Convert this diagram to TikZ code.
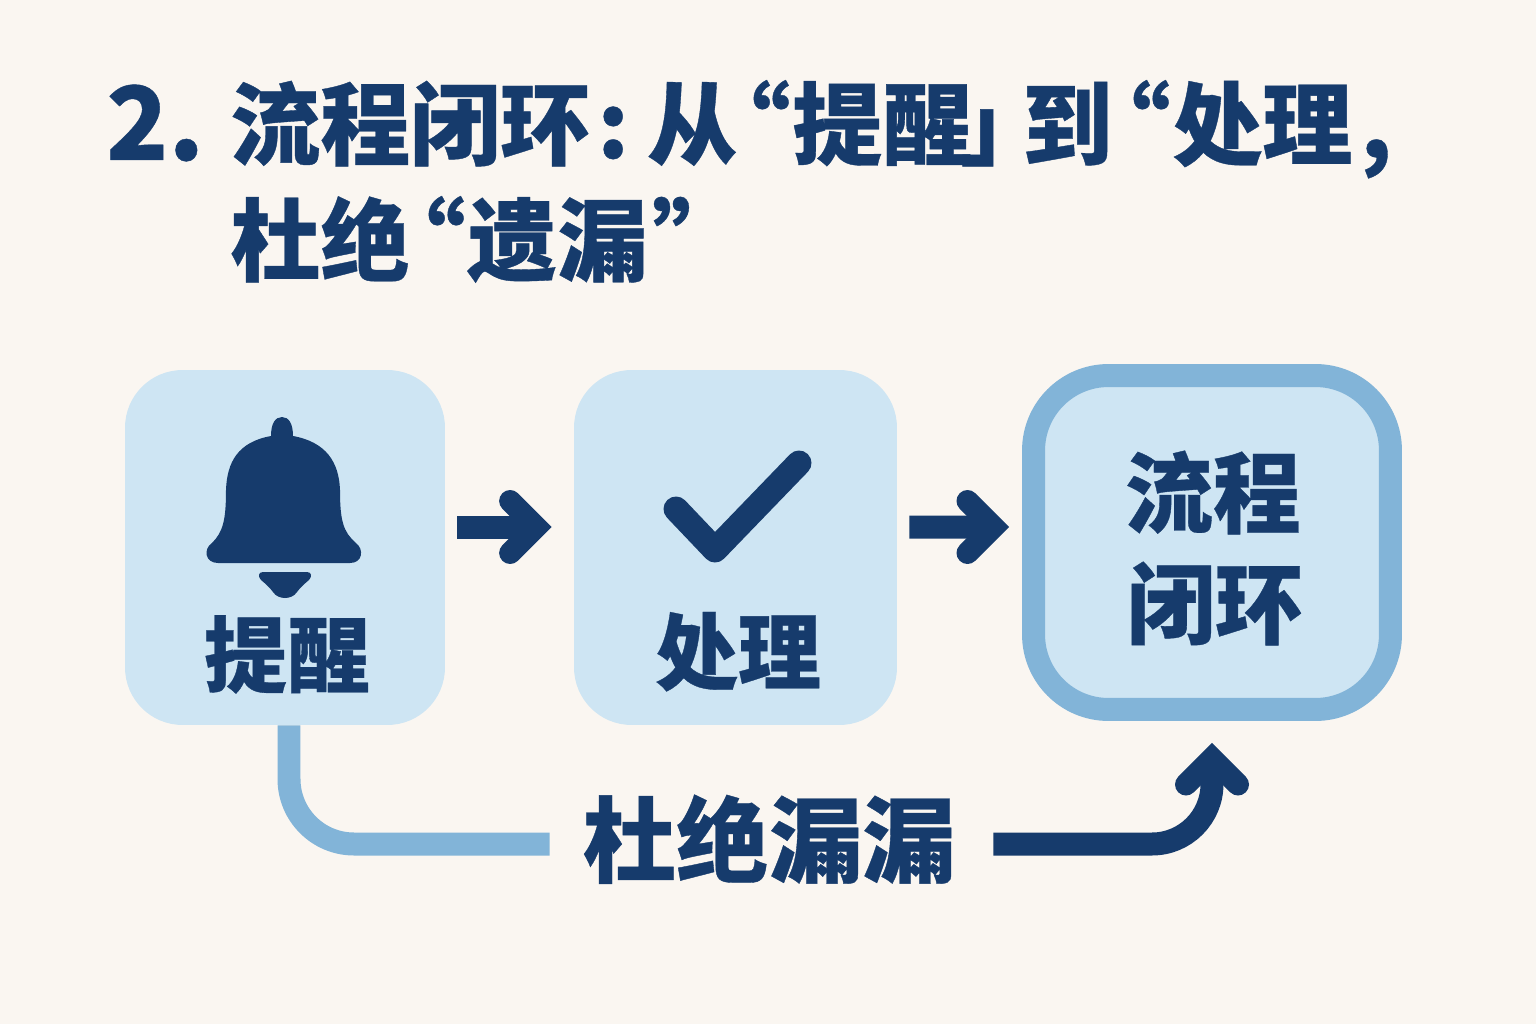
\documentclass[tikz,border=0pt]{standalone}
\usepackage{fontspec}
\usepackage{tikz}
\usetikzlibrary{arrows.meta}
\newfontfamily\cjk[BoldFeatures={FakeBold=.4}]{Noto Sans CJK SC}
\definecolor{bgcream}{HTML}{FAF6F1}
\definecolor{boxblue}{HTML}{CEE5F3}
\definecolor{edgeblue}{HTML}{82B4D8}
\definecolor{navy}{HTML}{163B6C}
\newcommand{\cjksize}[1]{\cjk\bfseries\fontsize{#1}{#1}\selectfont}
\tikzset{
  title/.style={anchor=base west,inner sep=0pt,text=navy,font=\cjksize{51.2pt}},
  label/.style={anchor=base,inner sep=0pt,text=navy,font=\cjksize{#1}},
  softbox/.style={fill=boxblue,rounded corners=1.15cm,inner sep=0pt,minimum height=7.1cm},
  flow/.style={draw=navy,line width=.46cm,-{Straight Barb[length=.52cm,width=1.04cm,line width=.44cm,line cap=round,line join=miter]}},
}
\begin{document}
\begin{tikzpicture}[x=.02cm,y=-.02cm]
\useasboundingbox (0,0) rectangle (1536,1024);
\fill[bgcream] (0,0) rectangle (1536,1024);
\node[title,font=\cjksize{58pt}] (num) at (106,160) {2.};
\node[title] (t1) at (230,158) {流程闭环};
\node[title] (t2) at (597,158) {:};
\node[title] (t3) at (647,158) {从};
\node[title] (t4) at (700,158) {“};
\node[title] (t5) at (792,158) {提醒};
\node[title] (t6) at (960,158) {」};
\node[title] (t7) at (1022,158) {到};
\node[title] (t8) at (1080,158) {“};
\node[title] (t9) at (1172,158) {处理};
\node[title] (t10) at (1360,158) {,};
\node[title] (t11) at (230,274) {杜绝};
\node[title] (t12) at (375,274) {“};
\node[title] (t13) at (467,274) {遗漏};
\node[title] (t14) at (652,274) {”};
%boxes
\node[softbox,minimum width=6.4cm] (remind) at (285,547.5) {};
\node[softbox,minimum width=6.46cm] (handle) at (735.5,547.5) {};
\node[softbox,draw=edgeblue,line width=.46cm,rounded corners=1.5cm,minimum width=7.14cm,minimum height=6.68cm] (closed) at (1212,542.5) {};
\node[label=47.2pt] (remindtext) at (287,686) {提醒};
\node[label=47.2pt] (handletext) at (738,683) {处理};
\node[label=50pt] (closedtop) at (1213,526) {流程};
\node[label=50pt] (closedbot) at (1215,637) {闭环};
\node[inner sep=0pt,minimum width=8.86cm] (leak) at (771.5,844) {};
\node[label=53pt] (leaktext) at (769,875) {杜绝漏漏};
%bell
\fill[navy] (271,436) .. controls (271,424) and (275,417) .. (282,417)
  .. controls (289,417) and (293,424) .. (293,436)
  .. controls (326,442) and (339,462) .. (340,490)
  .. controls (340,520) and (343,532) .. (356,543)
  .. controls (364,549) and (363,563) .. (350,563)
  -- (218,563) .. controls (205,563) and (203,549) .. (212,543)
  .. controls (223,532) and (226,520) .. (226,490)
  .. controls (227,462) and (238,442) .. (271,436) -- cycle;
\fill[navy] (263,572) -- (307,572) .. controls (312,572) and (312,577) .. (309,580)
  .. controls (303,585) and (300,588) .. (297,592)
  .. controls (292,600) and (278,600) .. (273,592)
  .. controls (270,588) and (267,585) .. (261,580)
  .. controls (258,577) and (258,572) .. (263,572) -- cycle;
%check
\draw[navy,line width=.5cm,line cap=round,line join=round] (676,509) -- (715,550) -- (799,463);
%arrows
\draw[flow] ([xshift=.24cm,yshift=.41cm]remind.east) -- ([xshift=-.44cm,yshift=.41cm]handle.west);
\draw[flow] ([xshift=.24cm,yshift=.41cm]handle.east) -- ([xshift=-.26cm,yshift=.31cm]closed.west);
\draw[edgeblue,line width=.46cm,rounded corners=1.3cm] ([xshift=.08cm]remind.south) |- (leak.west);
\draw[flow,rounded corners=1.2cm] (leak.east) -| ([yshift=-.44cm]closed.south);
\end{tikzpicture}
\end{document}
